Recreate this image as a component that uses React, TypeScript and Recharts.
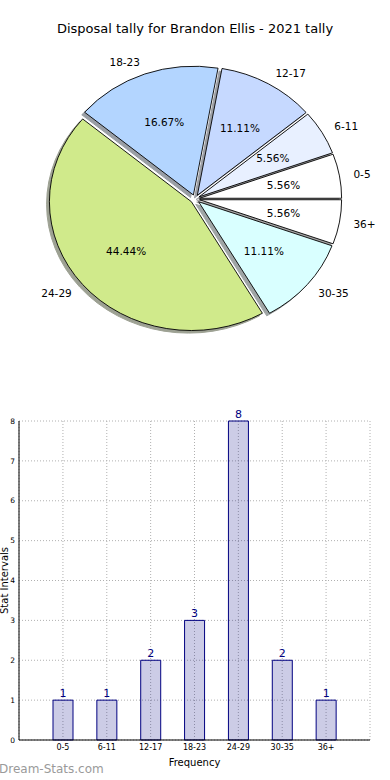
import { PieChart, Pie, BarChart, Bar, XAxis, YAxis, CartesianGrid, LabelList } from "recharts";

const intervals = ["0-5", "6-11", "12-17", "18-23", "24-29", "30-35", "36+"];
const tallies = [1, 1, 2, 3, 8, 2, 1];
const sliceColors = ["#ffffff", "#e8f0ff", "#c6d9ff", "#b3d5ff", "#d0ea8b", "#d9ffff", "#ffffff"];
const yTicks = [0, 1, 2, 3, 4, 5, 6, 7, 8];

const FONT = "'DejaVu Sans', sans-serif";
const RAD = Math.PI / 180;
// matplotlib axes are not square, so the pie comes out as an ellipse
const SQUASH = 0.907;
const EXPLODE = 0.033;
const SHADOW = 0.02;

const pieData = intervals.map((label, i) => ({ label, value: tallies[i] }));
const barData = intervals.map((label, i) => ({ label, count: tallies[i] }));

function wedgePath(cx: number, cy: number, rx: number, ry: number, a0: number, a1: number) {
  const x1 = cx + rx * Math.cos(a0 * RAD);
  const y1 = cy - ry * Math.sin(a0 * RAD);
  const x2 = cx + rx * Math.cos(a1 * RAD);
  const y2 = cy - ry * Math.sin(a1 * RAD);
  const large = Math.abs(a1 - a0) > 180 ? 1 : 0;
  return `M${cx},${cy} L${x1},${y1} A${rx},${ry} 0 ${large} 0 ${x2},${y2} Z`;
}

function shade(hex: string) {
  const n = parseInt(hex.slice(1), 16);
  const r = Math.round(((n >> 16) & 255) * 0.3);
  const g = Math.round(((n >> 8) & 255) * 0.3);
  const b = Math.round((n & 255) * 0.3);
  return `rgb(${r},${g},${b})`;
}

function geometry(props: any) {
  const { cx, cy, outerRadius, midAngle } = props;
  const rx = outerRadius;
  const ry = outerRadius * SQUASH;
  const m = midAngle * RAD;
  const ox = cx + EXPLODE * rx * Math.cos(m);
  const oy = cy - EXPLODE * ry * Math.sin(m);
  return { rx, ry, m, ox, oy };
}

function ShadowWedge(props: any) {
  const { startAngle, endAngle, index } = props;
  const { rx, ry, ox, oy } = geometry(props);
  const c = shade(sliceColors[index]);
  return (
    <path
      d={wedgePath(ox - SHADOW * rx, oy + SHADOW * ry, rx, ry, startAngle, endAngle)}
      fill={c}
      stroke={c}
      strokeWidth={1}
      opacity={0.5}
    />
  );
}

function Wedge(props: any) {
  const { startAngle, endAngle, index, percent } = props;
  const { rx, ry, m, ox, oy } = geometry(props);
  const cos = Math.cos(m);
  const sin = Math.sin(m);
  return (
    <g>
      <path
        d={wedgePath(ox, oy, rx, ry, startAngle, endAngle)}
        fill={sliceColors[index]}
        stroke="#000"
        strokeWidth={0.9}
      />
      <text
        x={ox + 0.6 * rx * cos}
        y={oy - 0.6 * ry * sin}
        textAnchor="middle"
        dominantBaseline="central"
        fontFamily={FONT}
        fontSize={10.5}
        fill="#000"
      >
        {(percent * 100).toFixed(2)}%
      </text>
      <text
        x={ox + 1.1 * rx * cos}
        y={oy - 1.1 * ry * sin}
        textAnchor={cos >= 0 ? "start" : "end"}
        dominantBaseline="central"
        fontFamily={FONT}
        fontSize={10.5}
        fill="#000"
      >
        {intervals[index]}
      </text>
    </g>
  );
}

function YLabel(props: any) {
  const vb = props.viewBox ?? {};
  const y = (vb.y ?? 421) + (vb.height ?? 319) / 2;
  return (
    <text
      x={0}
      y={0}
      transform={`translate(8, ${y}) rotate(-90)`}
      textAnchor="middle"
      fontFamily={FONT}
      fontSize={10}
      fill="#000"
    >
      Stat Intervals
    </text>
  );
}

export default function App() {
  return (
    <div
      style={{
        position: "absolute",
        left: 0,
        top: 0,
        width: 390,
        height: 780,
        background: "#fff",
        fontFamily: FONT,
        overflow: "hidden",
      }}
    >
      <div
        style={{
          position: "absolute",
          top: 21,
          left: 0,
          width: 390,
          textAlign: "center",
          fontSize: 13,
          color: "#000",
        }}
      >
        Disposal tally for Brandon Ellis - 2021 tally
      </div>

      <div style={{ position: "absolute", top: 0, left: 0 }}>
        <PieChart width={390} height={370} margin={{ top: 0, right: 0, bottom: 0, left: 0 }}>
          <Pie
            data={pieData}
            dataKey="value"
            nameKey="label"
            cx={195}
            cy={199}
            outerRadius={142}
            startAngle={0}
            endAngle={360}
            fill="none"
            stroke="none"
            labelLine={false}
            label={ShadowWedge}
            isAnimationActive={false}
          />
          <Pie
            data={pieData}
            dataKey="value"
            nameKey="label"
            cx={195}
            cy={199}
            outerRadius={142}
            startAngle={0}
            endAngle={360}
            fill="none"
            stroke="none"
            labelLine={false}
            label={Wedge}
            isAnimationActive={false}
          />
        </PieChart>
      </div>

      <div style={{ position: "absolute", top: 400, left: 0 }}>
        <BarChart
          width={390}
          height={380}
          data={barData}
          margin={{ top: 21, right: 20, bottom: 10, left: 0 }}
        >
          <CartesianGrid stroke="#b0b0b0" strokeDasharray="1 2" />
          <XAxis
            dataKey="label"
            padding={{ left: 22, right: 22 }}
            height={30}
            tickSize={0}
            tickMargin={4}
            tick={{ fontSize: 8, fill: "#000", fontFamily: FONT }}
            axisLine={{ stroke: "#000" }}
            label={{
              value: "Frequency",
              position: "insideBottom",
              offset: 4,
              fontSize: 10,
              fill: "#000",
              fontFamily: FONT,
            }}
          />
          <XAxis
            xAxisId="top"
            orientation="top"
            dataKey="label"
            height={0}
            tick={false}
            tickLine={false}
            axisLine={{ stroke: "#000" }}
          />
          <YAxis
            domain={[0, 8]}
            ticks={yTicks}
            width={19}
            tickSize={0}
            tickMargin={4}
            tick={{ fontSize: 7.5, fill: "#000", fontFamily: FONT }}
            axisLine={{ stroke: "#000" }}
            label={YLabel}
          />
          <YAxis
            yAxisId="right"
            orientation="right"
            domain={[0, 8]}
            width={0}
            tick={false}
            tickLine={false}
            axisLine={{ stroke: "#000" }}
          />
          <Bar
            dataKey="count"
            barSize={20}
            fill="#000080"
            fillOpacity={0.2}
            stroke="#000080"
            strokeWidth={1}
            isAnimationActive={false}
          >
            <LabelList
              dataKey="count"
              position="top"
              offset={3}
              fill="#000080"
              fontSize={11}
              fontFamily={FONT}
            />
          </Bar>
        </BarChart>
      </div>

      <div
        style={{
          position: "absolute",
          left: -1,
          top: 762,
          fontSize: 12,
          color: "#9a9a9a",
          fontFamily: FONT,
          whiteSpace: "nowrap",
        }}
      >
        Dream-Stats.com
      </div>
    </div>
  );
}
